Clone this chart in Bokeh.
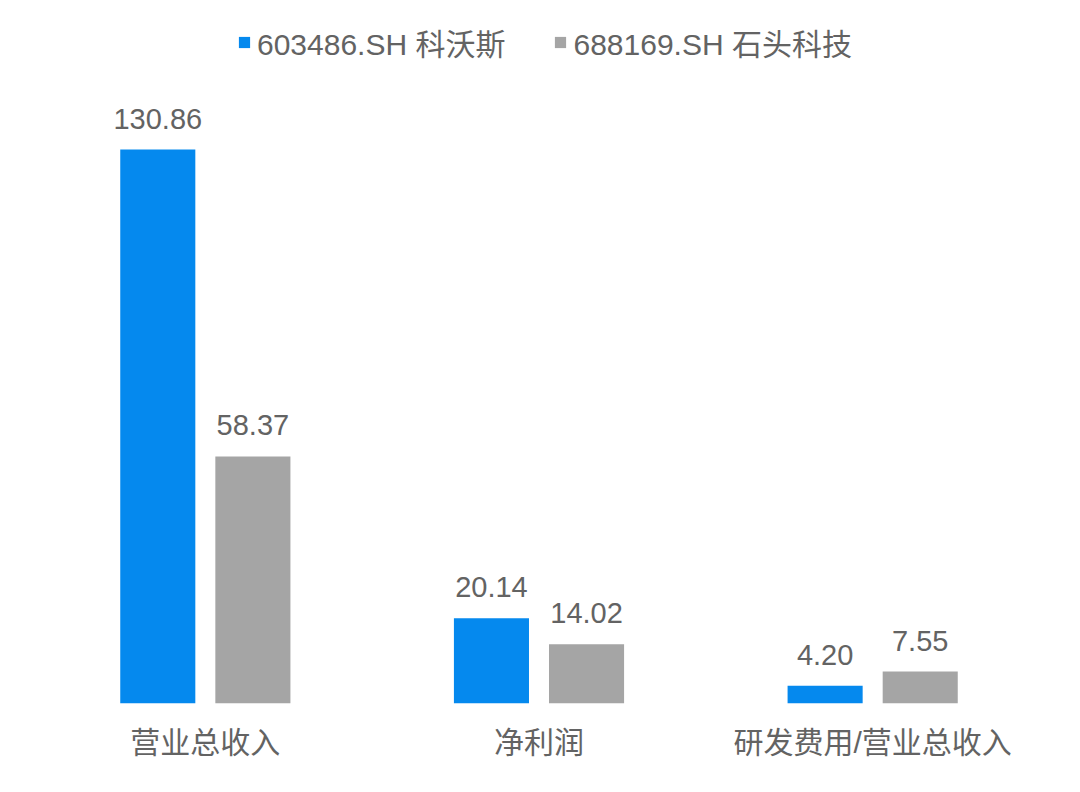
import numpy as np
from bokeh.plotting import figure
from bokeh.models import ColumnDataSource, Range1d, Legend, LegendItem, FixedTicker
from bokeh.core.properties import value
from bokeh.embed import file_html
from bokeh.resources import INLINE

categories = ["营业总收入", "净利润", "研发费用/营业总收入"]
series_names = ["603486.SH 科沃斯", "688169.SH 石头科技"]
ecovacs = [130.86, 20.14, 4.20]
roborock = [58.37, 14.02, 7.55]
label_fmt = "{:.2f}"

BLUE = "#0589EE"
GRAY = "#A5A5A5"
TEXT = "#636363"
FONT = "Liberation Sans, Noto Sans CJK SC"

idx = np.arange(len(categories))
off = 0.1425
bw = 0.225

src_a = ColumnDataSource(dict(x=idx - off, top=ecovacs, lbl=[label_fmt.format(v) for v in ecovacs]))
src_b = ColumnDataSource(dict(x=idx + off, top=roborock, lbl=[label_fmt.format(v) for v in roborock]))

p = figure(width=1064, height=776, output_backend="svg", toolbar_location=None,
           x_range=Range1d(-0.5, len(categories) - 0.5), y_range=Range1d(0, 166.06),
           min_border_left=38, min_border_right=25, min_border_top=0, min_border_bottom=73)
p.outline_line_color = None
p.xgrid.visible = False
p.ygrid.visible = False
p.yaxis.visible = False
p.background_fill_color = "white"
p.border_fill_color = "white"

ra = p.vbar(x="x", top="top", width=bw, bottom=0, source=src_a, fill_color=BLUE, line_color=None)
rb = p.vbar(x="x", top="top", width=bw, bottom=0, source=src_b, fill_color=GRAY, line_color=None)

for src in (src_a, src_b):
    p.text(x="x", y="top", text="lbl", source=src, text_align="center", text_baseline="alphabetic",
           y_offset=-31, text_font=value(FONT), text_font_size="29px", text_color=TEXT)

ax = p.xaxis[0]
ax.ticker = FixedTicker(ticks=list(idx))
ax.major_label_overrides = {int(i): c for i, c in zip(idx, categories)}
ax.axis_line_color = None
ax.major_tick_line_color = None
ax.minor_tick_line_color = None
ax.major_tick_out = 0
ax.major_tick_in = 0
ax.major_label_standoff = 22
ax.major_label_text_font = FONT
ax.major_label_text_font_size = "30px"
ax.major_label_text_color = TEXT

legend = Legend(items=[LegendItem(label=series_names[0], renderers=[ra]),
                       LegendItem(label=series_names[1], renderers=[rb])],
                orientation="horizontal", location=(199, 639),
                glyph_width=14, glyph_height=14, label_standoff=6, spacing=48,
                padding=0, margin=0, border_line_color=None, background_fill_alpha=0,
                label_text_font=FONT, label_text_font_size="30px", label_text_color=TEXT)
p.add_layout(legend, "center")

open("out.html", "w").write(file_html(p, INLINE))
